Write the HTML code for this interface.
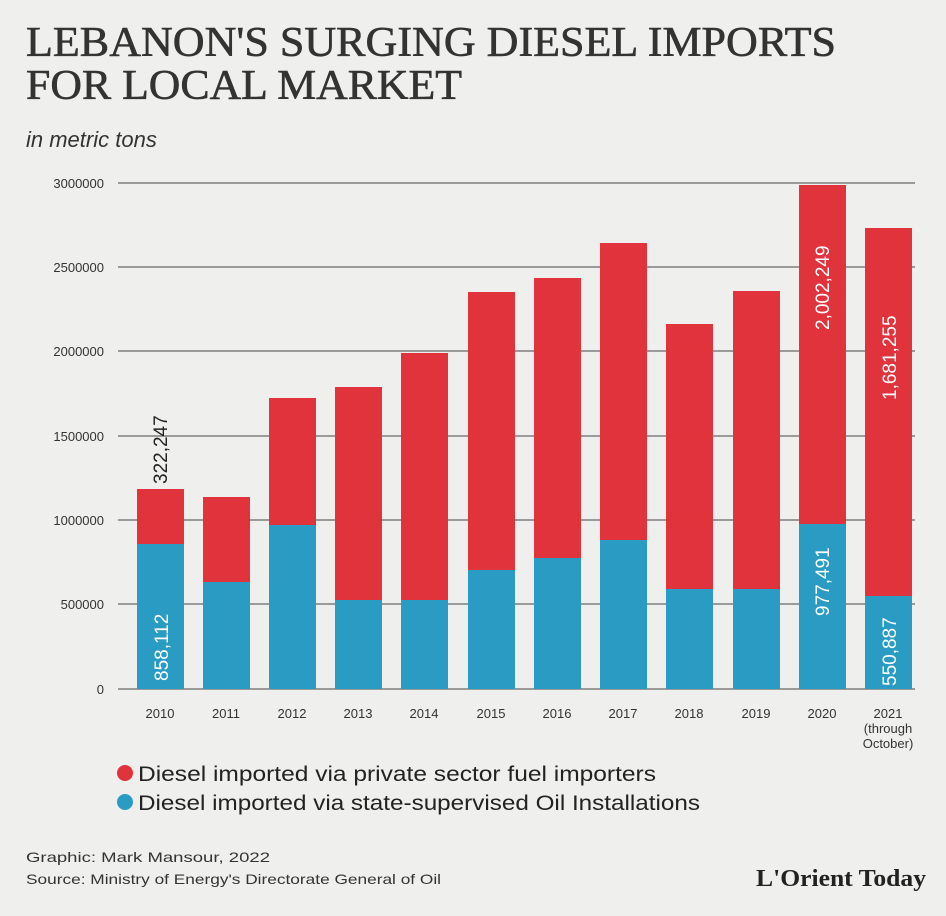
<!DOCTYPE html>
<html><head><style>
body{margin:0;background:#efefed;}
svg{display:block}
</style></head><body>
<svg width="946" height="916" viewBox="0 0 946 916" xmlns="http://www.w3.org/2000/svg">
<rect width="946" height="916" fill="#efefed"/>
<g font-family="Liberation Serif, serif" fill="#333" font-size="42" stroke="#333" stroke-width="0.6">
<text x="26" y="56" textLength="810" lengthAdjust="spacingAndGlyphs">LEBANON'S SURGING DIESEL IMPORTS</text>
<text x="26" y="99" textLength="436" lengthAdjust="spacingAndGlyphs">FOR LOCAL MARKET</text>
</g>
<text x="26" y="147" font-family="Liberation Sans, sans-serif" font-style="italic" font-size="22" fill="#333">in metric tons</text>
<g stroke="#9a9a9a" stroke-width="2">
<line x1="118" y1="183" x2="915" y2="183"/>
<line x1="118" y1="267" x2="915" y2="267"/>
<line x1="118" y1="351" x2="915" y2="351"/>
<line x1="118" y1="436" x2="915" y2="436"/>
<line x1="118" y1="520" x2="915" y2="520"/>
<line x1="118" y1="604" x2="915" y2="604"/>
<line x1="118" y1="689" x2="915" y2="689"/>
</g>
<g font-family="Liberation Sans, sans-serif" font-size="13" fill="#333" text-anchor="end">
<text x="104" y="188">3000000</text><text x="104" y="272">2500000</text><text x="104" y="356">2000000</text>
<text x="104" y="441">1500000</text><text x="104" y="525">1000000</text><text x="104" y="609">500000</text><text x="104" y="694">0</text>
</g>
<g>
<rect x="137" y="489" width="47" height="200" fill="#e0333b"/><rect x="137" y="544" width="47" height="145" fill="#2a9bc3"/>
<rect x="203" y="497" width="47" height="192" fill="#e0333b"/><rect x="203" y="582" width="47" height="107" fill="#2a9bc3"/>
<rect x="269" y="398" width="47" height="291" fill="#e0333b"/><rect x="269" y="525" width="47" height="164" fill="#2a9bc3"/>
<rect x="335" y="387" width="47" height="302" fill="#e0333b"/><rect x="335" y="600" width="47" height="89" fill="#2a9bc3"/>
<rect x="401" y="353" width="47" height="336" fill="#e0333b"/><rect x="401" y="600" width="47" height="89" fill="#2a9bc3"/>
<rect x="468" y="292" width="47" height="397" fill="#e0333b"/><rect x="468" y="570" width="47" height="119" fill="#2a9bc3"/>
<rect x="534" y="278" width="47" height="411" fill="#e0333b"/><rect x="534" y="558" width="47" height="131" fill="#2a9bc3"/>
<rect x="600" y="243" width="47" height="446" fill="#e0333b"/><rect x="600" y="540" width="47" height="149" fill="#2a9bc3"/>
<rect x="666" y="324" width="47" height="365" fill="#e0333b"/><rect x="666" y="589" width="47" height="100" fill="#2a9bc3"/>
<rect x="733" y="291" width="47" height="398" fill="#e0333b"/><rect x="733" y="589" width="47" height="100" fill="#2a9bc3"/>
<rect x="799" y="185" width="47" height="504" fill="#e0333b"/><rect x="799" y="524" width="47" height="165" fill="#2a9bc3"/>
<rect x="865" y="228" width="47" height="461" fill="#e0333b"/><rect x="865" y="596" width="47" height="93" fill="#2a9bc3"/>
</g>
<g font-family="Liberation Sans, sans-serif" font-size="19">
<text transform="translate(167,484) rotate(-90)" fill="#222">322,247</text>
<text transform="translate(168,681) rotate(-90)" fill="#fff">858,112</text>
<text transform="translate(829,330) rotate(-90)" fill="#fff">2,002,249</text>
<text transform="translate(829,616) rotate(-90)" fill="#fff">977,491</text>
<text transform="translate(896,400) rotate(-90)" fill="#fff">1,681,255</text>
<text transform="translate(896,686) rotate(-90)" fill="#fff">550,887</text>
</g>
<g font-family="Liberation Sans, sans-serif" font-size="13" fill="#333" text-anchor="middle">
<text x="160" y="718">2010</text><text x="226" y="718">2011</text><text x="292" y="718">2012</text>
<text x="358" y="718">2013</text><text x="424" y="718">2014</text><text x="491" y="718">2015</text>
<text x="557" y="718">2016</text><text x="623" y="718">2017</text><text x="689" y="718">2018</text>
<text x="756" y="718">2019</text><text x="822" y="718">2020</text><text x="888" y="718">2021</text>
<text x="888" y="733">(through</text><text x="888" y="748">October)</text>
</g>
<circle cx="125" cy="773" r="8" fill="#e0333b"/>
<circle cx="125" cy="802" r="8" fill="#2a9bc3"/>
<g font-family="Liberation Sans, sans-serif" font-size="21" fill="#222">
<text x="138" y="781" textLength="518" lengthAdjust="spacingAndGlyphs">Diesel imported via private sector fuel importers</text>
<text x="138" y="810" textLength="562" lengthAdjust="spacingAndGlyphs">Diesel imported via state-supervised Oil Installations</text>
</g>
<g font-family="Liberation Sans, sans-serif" font-size="14" fill="#333">
<text x="26" y="862" textLength="244" lengthAdjust="spacingAndGlyphs">Graphic: Mark Mansour, 2022</text>
<text x="26" y="884" textLength="415" lengthAdjust="spacingAndGlyphs">Source: Ministry of Energy's Directorate General of Oil</text>
</g>
<text x="756" y="886" font-family="Liberation Serif, serif" font-weight="bold" font-size="24" fill="#222" textLength="170" lengthAdjust="spacingAndGlyphs">L'Orient Today</text>
</svg>
</body></html>
